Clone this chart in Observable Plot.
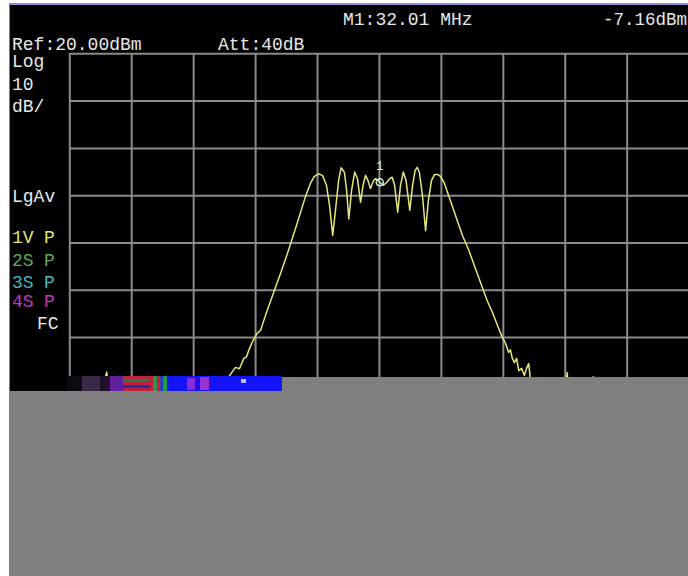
<!DOCTYPE html>
<html><head><meta charset="utf-8">
<script src="https://cdn.jsdelivr.net/npm/d3@7"></script>
<script src="https://cdn.jsdelivr.net/npm/@observablehq/plot@0.6"></script>
<style>html,body{margin:0;padding:0;background:#fff;} #chart{width:688px;height:576px;overflow:hidden;position:relative;}</style>
</head><body><div id="chart"></div>
<script>
// Spectrum trace (frequency in MHz, level in dBm)
const freqMHz = [22.00,22.35,22.70,23.05,23.19,23.30,23.65,24.00,24.40,24.80,25.20,25.60,26.00,26.40,26.75,27.00,27.14,27.35,27.48,27.62,27.71,27.78,27.89,28.05,28.16,28.32,28.61,28.84,29.06,29.32,29.61,29.77,29.90,30.04,30.16,30.29,30.39,30.49,30.58,30.68,30.76,30.87,30.94,31.01,31.10,31.20,31.29,31.39,31.47,31.55,31.63,31.71,31.81,31.87,31.95,32.01,32.13,32.23,32.33,32.41,32.49,32.59,32.68,32.77,32.86,32.98,33.07,33.15,33.22,33.29,33.39,33.49,33.58,33.68,33.78,33.87,33.97,34.10,34.29,34.49,34.68,34.89,35.10,35.30,35.48,35.65,35.81,35.96,36.07,36.17,36.23,36.29,36.36,36.43,36.50,36.59,36.68,36.75,36.82,36.88,37.04,37.36,37.68,38.01,38.06,38.12,38.49,38.91,38.98,39.46,40.11,40.75,41.40,41.98];
const levelDbm = [-52.8,-51.6,-52.4,-51.2,-47.3,-52.0,-51.0,-52.6,-51.4,-52.2,-50.8,-51.8,-50.6,-51.4,-49.8,-49.6,-48.2,-46.3,-46.6,-44.4,-44.0,-42.7,-41.0,-39.1,-38.5,-35.3,-30.0,-25.8,-21.6,-16.3,-10.2,-7.4,-5.9,-5.4,-5.7,-7.8,-12.1,-18.4,-13.1,-6.8,-4.1,-5.1,-8.9,-14.9,-8.9,-5.0,-6.4,-11.4,-7.8,-5.7,-6.8,-8.5,-6.8,-6.4,-6.8,-7.16,-7.8,-7.2,-6.4,-6.1,-7.8,-13.5,-7.8,-5.0,-6.8,-13.1,-7.8,-4.7,-4.0,-5.1,-10.0,-17.4,-11.0,-6.8,-5.5,-5.5,-5.9,-7.4,-11.0,-14.8,-18.4,-21.6,-25.4,-29.0,-32.2,-34.7,-37.4,-39.8,-41.2,-43.1,-42.6,-44.4,-45.3,-44.4,-47.0,-46.5,-48.0,-46.5,-45.5,-49.1,-50.7,-51.6,-50.7,-51.2,-47.4,-51.6,-51.2,-48.3,-51.6,-52.0,-51.4,-51.8,-51.2,-51.6];

// Marker
const markerLabel = ["1"];
const markerFreq = [32.01];
const markerLevel = [-7.16];

// Grid ticks: 2 MHz/div, 10 dB/div
const xTicks = [22,24,26,28,30,32,34,36,38,40,42];
const yTicks = [20,10,0,-10,-20,-30,-40,-50,-60,-70,-80];

// Annotations
const headerTexts = ["Ref:20.00dBm","Att:40dB","M1:32.01 MHz","-7.16dBm"];
const sideLabels = ["Log","10","dB/","LgAv"];
const traceNames = ["1V","2S","3S","4S"];
const traceColors = ["#e4e46c","#5fa85f","#48b4c0","#c038c0"];
const fcLabel = "FC";

const trace = freqMHz.map((f, i) => ({f, v: levelDbm[i]}));
const markers = markerFreq.map((f, i) => ({f, v: markerLevel[i], label: markerLabel[i]}));

const chart = Plot.plot({
  width: 688, height: 576,
  marginLeft: 69.3, marginRight: 0, marginTop: 53.3, marginBottom: 49.7,
  x: {domain: [22, 42], range: [69.3, 688.6], axis: null},
  y: {domain: [-80, 20], range: [526.3, 53.3], axis: null},
  style: {background: "#000", overflow: "hidden"},
  marks: [
    Plot.ruleX(xTicks, {stroke: "#8a8a8a", strokeWidth: 2}),
    Plot.ruleY(yTicks, {stroke: "#8a8a8a", strokeWidth: 2}),
    Plot.line(trace, {x: "f", y: "v", stroke: "#e6e67a", strokeWidth: 1.5}),
    Plot.dot(markers, {x: "f", y: "v", r: 3.5, stroke: "#bff2ea", strokeWidth: 1.5, fill: "none"}),
    Plot.text(markers, {x: "f", y: "v", text: "label", dy: -16, fill: "#bff2ea", fontSize: 12, fontFamily: "Liberation Mono"})
  ]
});
document.getElementById("chart").appendChild(chart);

const svg = d3.select(chart);
const font = "Liberation Mono";
// frame borders of the screenshot
svg.append("rect").attr("x", 0).attr("y", 0).attr("width", 9.5).attr("height", 576).attr("fill", "#fff");
svg.append("rect").attr("x", 0).attr("y", 0).attr("width", 688).attr("height", 3).attr("fill", "#fff");
svg.append("rect").attr("x", 9.5).attr("y", 3).attr("width", 679).attr("height", 2).attr("fill", "#8f8fd6");
// grey lower area
svg.append("path").attr("d", "M9.5,391H67V377H688V576H9.5Z").attr("fill", "#808080");
// corrupted band
const band = svg.append("g").attr("stroke", "none");
band.append("rect").attr("x", 67).attr("y", 376).attr("width", 15).attr("height", 15).attr("fill", "#0c0c10");
band.append("rect").attr("x", 82).attr("y", 376).attr("width", 18).attr("height", 15).attr("fill", "#3a2a48");
band.append("rect").attr("x", 100).attr("y", 376).attr("width", 10).attr("height", 15).attr("fill", "#20102a");
band.append("rect").attr("x", 110).attr("y", 376).attr("width", 13).attr("height", 15).attr("fill", "#6020a0");
const stripeCols = ["#c02040","#208040","#c02040","#2030a0","#c02040"];
stripeCols.forEach((c, i) => band.append("rect").attr("x", 123).attr("y", 376 + i * 3).attr("width", 27).attr("height", 3).attr("fill", c));
["#c02040","#20a040","#c02040","#2040c0","#20a040"].forEach((c, i) => band.append("rect").attr("x", 150 + i * 3.4).attr("y", 376).attr("width", 3.4).attr("height", 15).attr("fill", c));
band.append("rect").attr("x", 167).attr("y", 376).attr("width", 115).attr("height", 15).attr("fill", "#1414f8");
band.append("rect").attr("x", 187).attr("y", 378).attr("width", 8).attr("height", 12).attr("fill", "#9028d8");
band.append("rect").attr("x", 200).attr("y", 377).attr("width", 9).attr("height", 13).attr("fill", "#a030d0");
band.append("rect").attr("x", 241).attr("y", 379).attr("width", 5).attr("height", 4).attr("fill", "#c0c0ff");

// text annotations
const txt = (s, x, y, col, size) => svg.append("text").attr("x", x).attr("y", y).attr("fill", col || "#e8e8e8")
  .attr("text-anchor", "start")
  .attr("font-family", font).attr("font-size", size || 18).attr("xml:space", "preserve").style("white-space", "pre").text(s);
txt(headerTexts[0], 12, 49.5);
txt(headerTexts[1], 218, 49.5);
txt(headerTexts[2], 343, 25);
txt(headerTexts[3], 603, 25, null, 17.5);
txt(sideLabels[0], 12, 67);
txt(sideLabels[1], 12, 89.5);
txt(sideLabels[2], 12, 111.5);
txt(sideLabels[3], 12, 202);
const baseY = [243, 265.5, 287.5, 306.5];
traceNames.forEach((n, i) => {
  txt(n, 12, baseY[i], traceColors[i]);
  txt("P", 44, baseY[i], traceColors[i]);
});
txt(fcLabel, 37, 329);
</script></body></html>
